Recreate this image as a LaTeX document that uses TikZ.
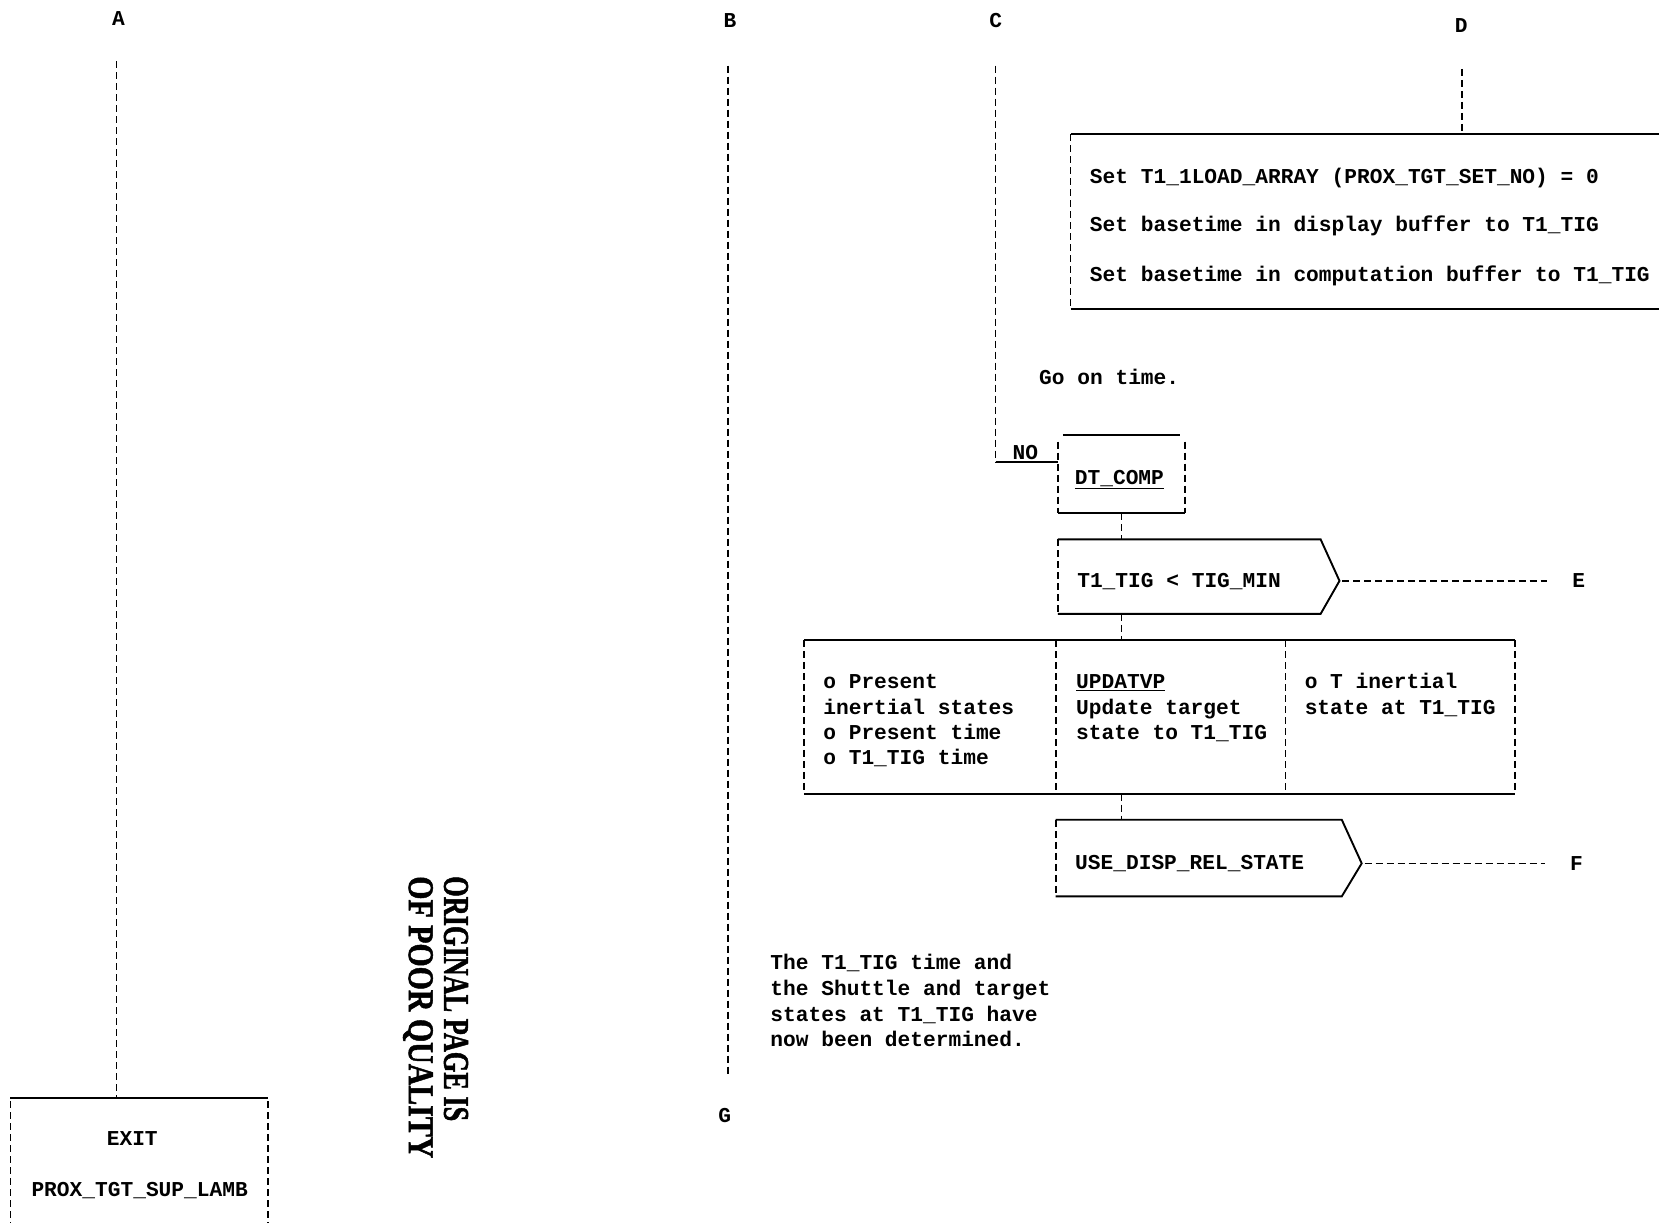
\documentclass[tikz,border=0pt]{standalone}
\usepackage{fontspec}
\setmainfont{Liberation Mono}
\newfontfamily\stampfont[BoldFeatures={FakeBold=1.5}]{Liberation Serif}
\usetikzlibrary{fit,calc}
\begin{document}
\begin{tikzpicture}[x=1.058pt,y=-1.058pt,
  solidln/.style={line width=1.9pt},
  dashln/.style={line width=1.7pt, dash pattern=on 7pt off 4pt},
  hdash/.style={line width=1.6pt, dash pattern=on 7pt off 4pt},
  txt/.style={inner sep=0pt, font=\fontsize{21.2}{25}\selectfont\bfseries, anchor=base west},
  lab/.style={inner sep=0pt, font=\fontsize{21.2}{25}\selectfont\bfseries, anchor=base},
  area/.style={inner sep=0pt, draw=none}]
\useasboundingbox[fill=white] (0,0) rectangle (1568,1155);

% labels
\node[lab] (labA) at (112,24) {A};
\node[lab] (labB) at (690,26) {B};
\node[lab] (labC) at (941,26) {C};
\node[lab] (labD) at (1381,31) {D};
\node[lab] (labE) at (1492,555) {E};
\node[lab] (labF) at (1490,823) {F};
\node[lab] (labG) at (685,1061) {G};

% exit box
\coordinate (ex1) at (10,1038); \coordinate (ex2) at (253,1175);
\node[area, fit=(ex1)(ex2)] (exitbox) {};
\draw[solidln] (exitbox.north west) -- (exitbox.north east);
\draw[dashln] ([yshift=-3pt]exitbox.north west) -- (exitbox.south west);
\draw[dashln] ([yshift=-3pt]exitbox.north east) -- (exitbox.south east);
\node[lab] (exit) at (125,1083) {EXIT};
\node[lab] (prox) at (132,1131) {PROX\_TGT\_SUP\_LAMB};
\coordinate (a1) at (110,58);
\draw[dashln] (a1) -- (a1 |- exitbox.north);

% B line
\coordinate (b1) at (688,62); \coordinate (b2) at (688,1015);
\draw[dashln] (b1) -- (b2);

% stamp
\node[rotate=-90, anchor=west, inner sep=0pt] (stamp1) at (431,828)
  {\resizebox{245pt}{24pt}{\stampfont\bfseries ORIGINAL PAGE IS}};
\node[rotate=-90, anchor=west, inner sep=0pt] (stamp2) at (395,828)
  {\resizebox{282pt}{24pt}{\stampfont\bfseries OF POOR QUALITY}};

% set box
\coordinate (s1) at (1012,127); \coordinate (s2) at (1590,292);
\node[area, fit=(s1)(s2)] (setbox) {};
\draw[solidln] (setbox.north west) -- (setbox.north east);
\draw[solidln] (setbox.south west) -- (setbox.south east);
\draw[dashln] (setbox.north west) -- (setbox.south west);
\node[txt] (set1) at (1030,173) {Set T1\_1LOAD\_ARRAY (PROX\_TGT\_SET\_NO) = 0};
\node[txt] (set2) at (1030,219) {Set basetime in display buffer to T1\_TIG};
\node[txt] (set3) at (1030,266) {Set basetime in computation buffer to T1\_TIG};
\coordinate (d1) at (1382,65);
\draw[dashln] (d1) -- (d1 |- setbox.north);

% DT_COMP
\coordinate (dt1) at (1000,411); \coordinate (dt2) at (1120,485);
\node[area, fit=(dt1)(dt2)] (dtbox) {};
\draw[solidln] ([xshift=5pt]dtbox.north west) -- ([xshift=-5pt]dtbox.north east);
\draw[solidln] (dtbox.south west) -- (dtbox.south east);
\draw[dashln] ([yshift=-7pt]dtbox.north west) -- (dtbox.south west);
\draw[dashln] ([yshift=-7pt]dtbox.north east) -- (dtbox.south east);
\node[lab] (dtcomp) at (1058,458) {\underline{DT\_COMP}};

% C line and NO
\coordinate (c1) at (941,62);
\coordinate (cno) at (dtbox.west |- 0,437);
\draw[dashln] (c1) -- (c1 |- cno);
\draw[solidln] (c1 |- cno) -- (cno);
\node[lab] (no) at (969,434) {NO};
\node[txt] (go) at (982,363) {Go on time.};

% T1_TIG decision
\coordinate (t1a) at (1000,510); \coordinate (t1b) at (1248,580);
\node[area, fit=(t1a)(t1b)] (t1box) {};
\coordinate (t1tip) at (1266,549);
\draw[solidln] (t1box.north west) -- (t1box.north east) -- (t1tip) -- (t1box.south east) -- (t1box.south west);
\draw[dashln] (t1box.north west) -- (t1box.south west);
\node[txt] (t1txt) at (1018,555) {T1\_TIG < TIG\_MIN};
\draw[hdash, shorten <=3pt, shorten >=25pt] (t1tip) -- (t1tip -| labE.west);
\draw[dashln] (dtbox.south) -- (dtbox.south |- t1box.north);

% triple box
\coordinate (tr1) at (760,605); \coordinate (tr2) at (1432,750);
\node[area, fit=(tr1)(tr2)] (tribox) {};
\draw[solidln] (tribox.north west) -- (tribox.north east);
\draw[solidln] (tribox.south west) -- (tribox.south east);
\draw[dashln] (tribox.north west) -- (tribox.south west);
\draw[dashln] (tribox.north east) -- (tribox.south east);
\coordinate (dv1) at (998,605); \coordinate (dv2) at (1215,605);
\draw[dashln] (dv1) -- (dv1 |- tribox.south);
\draw[dashln] (dv2) -- (dv2 |- tribox.south);
\draw[dashln] (t1box.south -| dtbox.south) -- (tribox.north -| dtbox.south);

\node[txt] (c1l1) at (778,651) {o Present};
\node[txt] (c1l2) at (778,675) {inertial states};
\node[txt] (c1l3) at (778,699) {o Present time};
\node[txt] (c1l4) at (778,723) {o T1\_TIG time};
\node[txt] (c2l1) at (1017,651) {\underline{UPDATVP}};
\node[txt] (c2l2) at (1017,675) {Update target};
\node[txt] (c2l3) at (1017,699) {state to T1\_TIG};
\node[txt] (c3l1) at (1233,651) {o T inertial};
\node[txt] (c3l2) at (1233,675) {state at T1\_TIG};

% USE_DISP_REL_STATE
\coordinate (u1) at (998,775); \coordinate (u2) at (1268,847);
\node[area, fit=(u1)(u2)] (usebox) {};
\coordinate (utip) at (1287,816);
\draw[solidln] (usebox.north west) -- (usebox.north east) -- (utip) -- (usebox.south east) -- (usebox.south west);
\draw[dashln] (usebox.north west) -- (usebox.south west);
\node[txt] (usetxt) at (1016,822) {USE\_DISP\_REL\_STATE};
\draw[hdash, shorten <=3pt, shorten >=25pt] (utip) -- (utip -| labF.west);
\draw[dashln] (tribox.south -| dtbox.south) -- (usebox.north -| dtbox.south);

% note
\node[txt] (n1) at (728,916) {The T1\_TIG time and};
\node[txt] (n2) at (728,941) {the Shuttle and target};
\node[txt] (n3) at (728,965) {states at T1\_TIG have};
\node[txt] (n4) at (728,989) {now been determined.};
\end{tikzpicture}
\end{document}
